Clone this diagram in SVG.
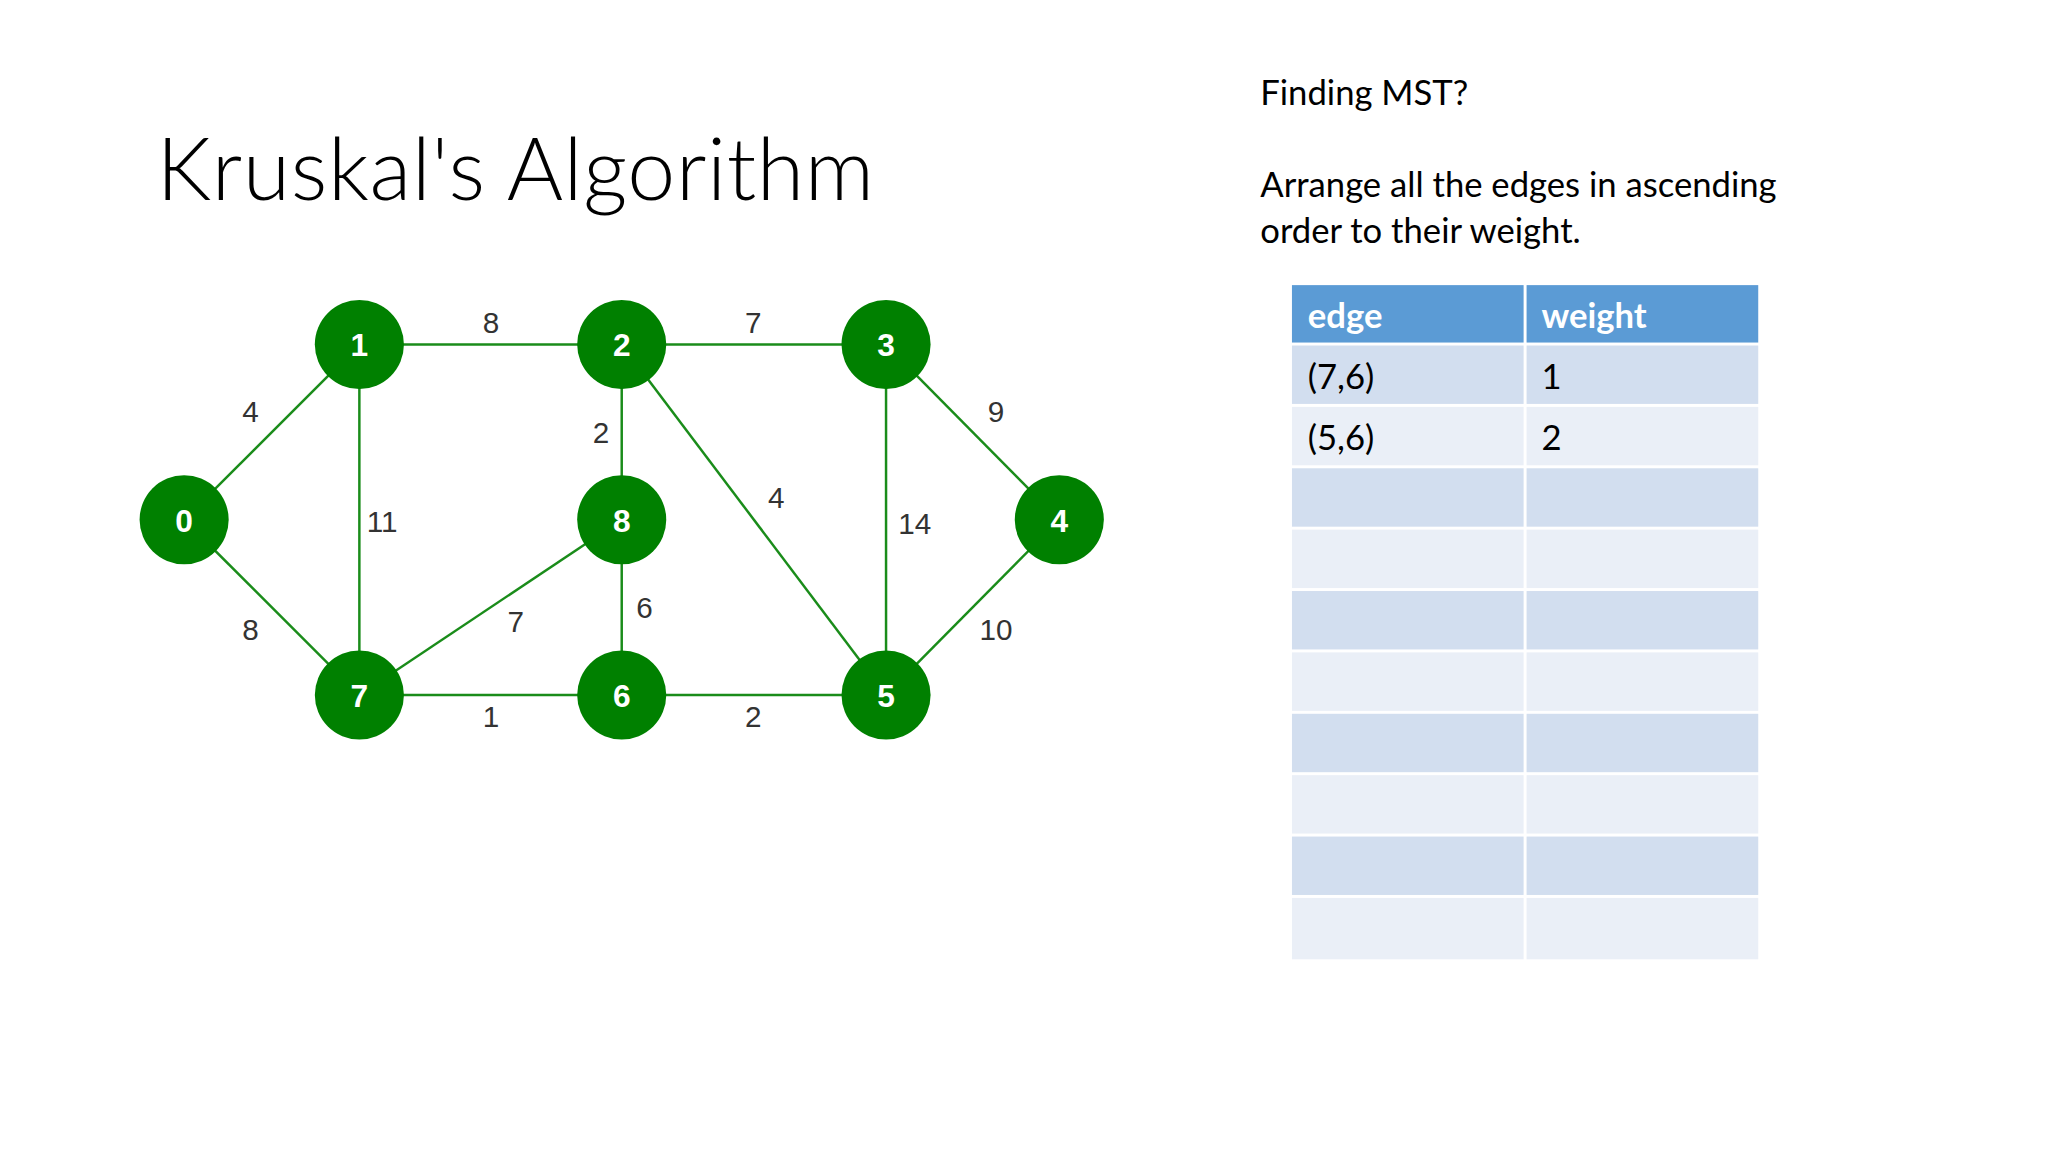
<svg xmlns="http://www.w3.org/2000/svg" width="2048" height="1152" viewBox="0 0 2048 1152">
<style>
.e{stroke:#1a8c1a;stroke-width:2.5;fill:none}
.n{fill:#008000}
.nl{font-family:"Liberation Sans",Arial,sans-serif;font-weight:bold;font-size:32px;fill:#fff;text-anchor:middle}
.w{font-family:"Liberation Sans",Arial,sans-serif;font-size:30px;fill:#333;text-anchor:middle}
.t{font-family:Lato,"Open Sans",sans-serif;font-size:35px;fill:#000}
.h{font-family:Lato,"Open Sans",sans-serif;font-size:35px;fill:#fff;font-weight:bold}
.ro{fill:#d2deef}.re{fill:#eaeff7}
</style>
<rect width="2048" height="1152" fill="#fff"/>
<g transform="scale(0.99)">
<text x="158" y="202" font-family="Lato,'Open Sans',sans-serif" font-weight="300" font-size="87" textLength="725" fill="#000">Kruskal's Algorithm</text>
<g id="connectors">
<line class="e" x1="363" y1="348" x2="628" y2="348"/>
<line class="e" x1="628" y1="348" x2="895" y2="348"/>
<line class="e" x1="186" y1="525" x2="363" y2="348"/>
<line class="e" x1="363" y1="348" x2="363" y2="702"/>
<line class="e" x1="628" y1="348" x2="628" y2="525"/>
<line class="e" x1="628" y1="348" x2="895" y2="702"/>
<line class="e" x1="895" y1="348" x2="895" y2="702"/>
<line class="e" x1="895" y1="348" x2="1070" y2="525"/>
<line class="e" x1="186" y1="525" x2="363" y2="702"/>
<line class="e" x1="628" y1="525" x2="363" y2="702"/>
<line class="e" x1="628" y1="525" x2="628" y2="702"/>
<line class="e" x1="1070" y1="525" x2="895" y2="702"/>
<line class="e" x1="363" y1="702" x2="628" y2="702"/>
<line class="e" x1="628" y1="702" x2="895" y2="702"/>
<text class="w" x="496" y="336">8</text>
<text class="w" x="761" y="336">7</text>
<text class="w" x="253" y="426">4</text>
<text class="w" x="386" y="537">11</text>
<text class="w" x="607" y="447">2</text>
<text class="w" x="784" y="513">4</text>
<text class="w" x="924" y="539">14</text>
<text class="w" x="1006" y="426">9</text>
<text class="w" x="253" y="646">8</text>
<text class="w" x="521" y="638">7</text>
<text class="w" x="651" y="624">6</text>
<text class="w" x="1006" y="646">10</text>
<text class="w" x="496" y="734">1</text>
<text class="w" x="761" y="734">2</text>
</g>
<g id="n0"><circle class="n" cx="186" cy="525" r="45"/><text class="nl" x="186" y="537">0</text></g>
<g id="n1"><circle class="n" cx="363" cy="348" r="45"/><text class="nl" x="363" y="360">1</text></g>
<g id="n2"><circle class="n" cx="628" cy="348" r="45"/><text class="nl" x="628" y="360">2</text></g>
<g id="n3"><circle class="n" cx="895" cy="348" r="45"/><text class="nl" x="895" y="360">3</text></g>
<g id="n8"><circle class="n" cx="628" cy="525" r="45"/><text class="nl" x="628" y="537">8</text></g>
<g id="n4"><circle class="n" cx="1070" cy="525" r="45"/><text class="nl" x="1070" y="537">4</text></g>
<g id="n7"><circle class="n" cx="363" cy="702" r="45"/><text class="nl" x="363" y="714">7</text></g>
<g id="n6"><circle class="n" cx="628" cy="702" r="45"/><text class="nl" x="628" y="714">6</text></g>
<g id="n5"><circle class="n" cx="895" cy="702" r="45"/><text class="nl" x="895" y="714">5</text></g>
<g id="text">
<text class="t" x="1273" y="106">Finding MST?</text>
<text class="t" x="1273" y="199">Arrange all the edges in ascending</text>
<text class="t" x="1273" y="245">order to their weight.</text>
</g>
<g id="table">
<rect x="1305" y="288" width="234" height="58" fill="#5b9bd5"/>
<rect x="1542" y="288" width="234" height="58" fill="#5b9bd5"/>
<rect class="ro" x="1305" y="349" width="234" height="59"/><rect class="ro" x="1542" y="349" width="234" height="59"/>
<rect class="re" x="1305" y="411" width="234" height="59"/><rect class="re" x="1542" y="411" width="234" height="59"/>
<rect class="ro" x="1305" y="473" width="234" height="59"/><rect class="ro" x="1542" y="473" width="234" height="59"/>
<rect class="re" x="1305" y="535" width="234" height="59"/><rect class="re" x="1542" y="535" width="234" height="59"/>
<rect class="ro" x="1305" y="597" width="234" height="59"/><rect class="ro" x="1542" y="597" width="234" height="59"/>
<rect class="re" x="1305" y="659" width="234" height="59"/><rect class="re" x="1542" y="659" width="234" height="59"/>
<rect class="ro" x="1305" y="721" width="234" height="59"/><rect class="ro" x="1542" y="721" width="234" height="59"/>
<rect class="re" x="1305" y="783" width="234" height="59"/><rect class="re" x="1542" y="783" width="234" height="59"/>
<rect class="ro" x="1305" y="845" width="234" height="59"/><rect class="ro" x="1542" y="845" width="234" height="59"/>
<rect class="re" x="1305" y="907" width="234" height="62"/><rect class="re" x="1542" y="907" width="234" height="62"/>
<text class="h" x="1321" y="331">edge</text>
<text class="h" x="1557" y="331">weight</text>
<text class="t" x="1321" y="393">(7,6)</text>
<text class="t" x="1557" y="393">1</text>
<text class="t" x="1321" y="455">(5,6)</text>
<text class="t" x="1557" y="455">2</text>
</g>
</g>
</svg>
